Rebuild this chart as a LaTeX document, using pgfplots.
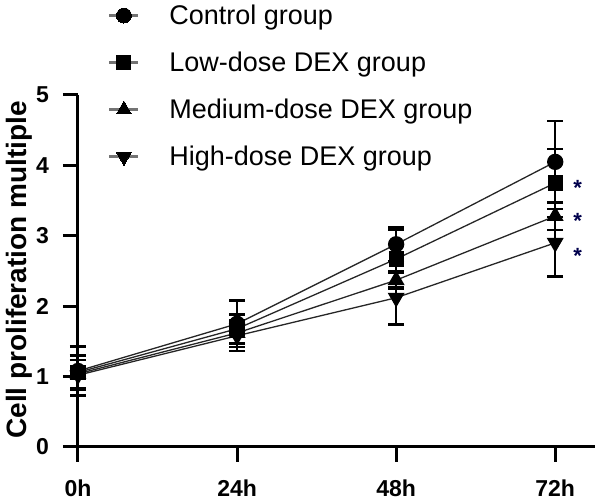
\documentclass[border=0pt]{standalone}
\usepackage{fontspec}
\setmainfont{Liberation Sans}
\usepackage{pgfplots}
\pgfplotsset{compat=1.18}
\begin{document}
\begin{tikzpicture}
\begin{axis}[
  name=ax,
  scale only axis,
  width=517pt, height=352pt,
  xmin=0, xmax=78, ymin=0, ymax=5,
  axis x line=bottom, axis y line=left,
  axis line style={line width=3pt,-},
  x axis line style={-}, y axis line style={-},
  xtick={0,24,48,72}, xticklabels={0h,24h,48h,72h},
  ytick={0,1,2,3,4,5},
  tick align=outside,
  major tick length=15pt,
  tick style={line width=3pt,black},
  /pgf/number format/assume math mode=true,
  ticklabel style={font=\fontsize{23}{26}\selectfont\bfseries},
  xticklabel style={at={(axis cs:\tick,0)}, anchor=north, yshift=-18pt, inner sep=0pt},
  yticklabel style={at={(axis cs:0,\tick)}, anchor=east, xshift=-14pt, inner sep=0pt},
  ylabel={Cell proliferation multiple},
  ylabel style={at={(axis description cs:0,0.503)}, anchor=center, yshift=59pt,
    font=\fontsize{28}{30}\selectfont\bfseries},
  clip=false,
  legend style={at={(axis description cs:0.058,1.262)}, anchor=north west, draw=none, fill=none,
    font=\fontsize{27}{31}\selectfont, row sep=22pt, inner sep=0pt},
  legend cell align=left,
  legend image code/.code={
    \path[draw=none,fill=none] (0pt,0pt) -- (58pt,0pt);
    \draw[line width=2.5pt,black!55] (0pt,0pt) -- (29pt,0pt);
    \draw[#1,draw=none,line width=0pt] plot coordinates {(14.5pt,0pt)};
  },
  every axis plot/.append style={line width=1.3pt, black!85,
    error bars/error bar style={line width=2.4pt,black},
    error bars/error mark options={rotate=90, line width=2.4pt, mark size=8pt, black}},
]
\addplot[black!85, mark=*, mark size=7.5pt, mark options={fill=black,draw=black},
  error bars/.cd, y dir=both, y explicit]
  coordinates {(0,1.08) +- (0,0.35) (24,1.75) +- (0,0.33) (48,2.88) +- (0,0.24) (72,4.05) +- (0,0.58)};
\addlegendentry{Control group}
\addplot[black!85, mark=square*, mark size=7pt, mark options={fill=black,draw=black},
  error bars/.cd, y dir=both, y explicit]
  coordinates {(0,1.06) +- (0,0.25) (24,1.68) +- (0,0.20) (48,2.67) +- (0,0.42) (72,3.75) +- (0,0.48)};
\addlegendentry{Low-dose DEX group}
\addplot[black!85, mark=triangle*, mark size=8.5pt, mark options={fill=black,draw=black},
  error bars/.cd, y dir=both, y explicit]
  coordinates {(0,1.04) +- (0,0.20) (24,1.62) +- (0,0.15) (48,2.37) +- (0,0.10) (72,3.28) +- (0,0.20)};
\addlegendentry{Medium-dose DEX group}
\addplot[black!85, mark=triangle*, mark size=8.5pt, mark options={fill=black,draw=black,rotate=180},
  error bars/.cd, y dir=both, y explicit]
  coordinates {(0,1.02) +- (0,0.28) (24,1.58) +- (0,0.22) (48,2.12) +- (0,0.38) (72,2.90) +- (0,0.48)};
\addlegendentry{High-dose DEX group}
\node[text=blue!30!black, font=\fontsize{22}{22}\selectfont\bfseries] at (axis cs:75.4,3.68) {*};
\node[text=blue!30!black, font=\fontsize{22}{22}\selectfont\bfseries] at (axis cs:75.4,3.21) {*};
\node[text=blue!30!black, font=\fontsize{22}{22}\selectfont\bfseries] at (axis cs:75.4,2.72) {*};
\end{axis}
\pgfresetboundingbox
\path (ax.south west) ++(-78pt,-56pt) rectangle ++(600pt,503pt);
\end{tikzpicture}
\end{document}
